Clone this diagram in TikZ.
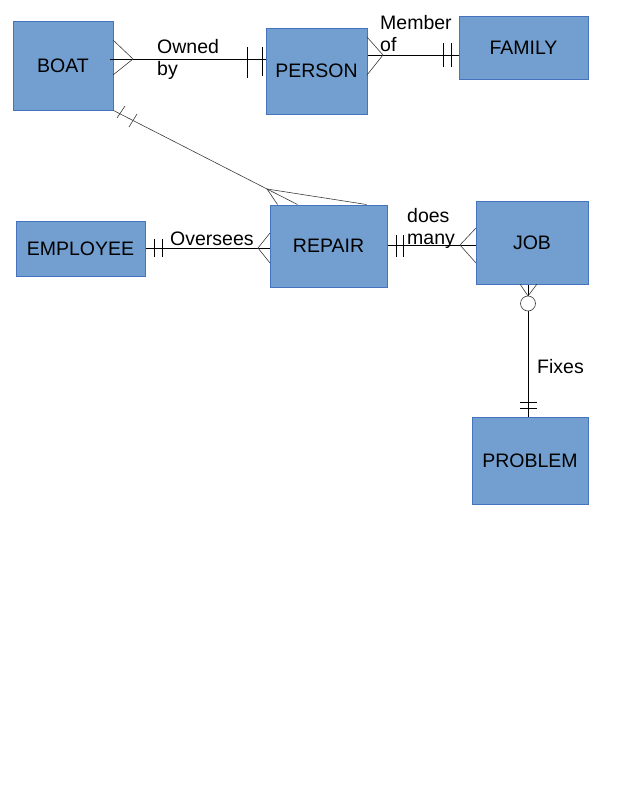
\documentclass[tikz,border=0pt]{standalone}
\usepackage{fontspec}
\setmainfont{Liberation Sans}
\usetikzlibrary{calc}
\definecolor{boxfill}{RGB}{114,159,207}
\definecolor{boxline}{RGB}{70,115,190}
\definecolor{thinline}{RGB}{60,60,60}
\begin{document}
\begin{tikzpicture}[x=1pt,y=-1pt,
  ebox/.style={draw=boxline, line width=1pt, fill=boxfill, inner sep=0pt,
    font=\fontsize{19.5}{22}\selectfont},
  lbl/.style={anchor=north west, inner sep=0pt, align=left,
    font=\fontsize{19.5}{22}\selectfont},
  mainline/.style={draw=black, line width=1pt},
  crow/.style={draw=thinline, line width=0.6pt},
  tick/.style={draw=black, line width=0.9pt}]
\useasboundingbox (0,0) rectangle (622,804);
% entities
\node[ebox, minimum width=100pt, minimum height=89pt] (boat) at (63,65.5) {BOAT};
\node[ebox, minimum width=101pt, minimum height=86pt] (person) at (316.5,71) {PERSON};
\node[ebox, minimum width=129pt, minimum height=63pt] (family) at (523.5,47.5) {FAMILY};
\node[ebox, minimum width=129pt, minimum height=55pt] (employee) at (80.5,248.5) {EMPLOYEE};
\node[ebox, minimum width=117pt, minimum height=82pt] (repair) at (328.5,246) {REPAIR};
\node[ebox, minimum width=112pt, minimum height=83pt] (job) at (532,242.5) {JOB};
\node[ebox, minimum width=116pt, minimum height=87pt] (problem) at (530,460.5) {PROBLEM};

% BOAT -- PERSON
\draw[mainline] ([xshift=-4pt,yshift=6.5pt]boat.east) -- ([yshift=12pt]person.west);
\draw[crow] (113,40) -- (133,59) -- (113,75);
\draw[tick] (247,47) -- (247,78);
\draw[tick] (262,47) -- (262,76);
\node[lbl] (ownedby) at (157,39) {Owned\\by};

% PERSON -- FAMILY
\draw[mainline] ([yshift=16pt]person.east) -- ([yshift=-7.5pt]family.west);
\draw[crow] (367,37) -- (383,55) -- (367,75);
\draw[tick] (443,43) -- (443,67);
\draw[tick] (451,43) -- (451,67);
\node[lbl] (memberof) at (380,15) {Member\\of};

% BOAT -- REPAIR
\coordinate (brA) at (267,189);
\draw[crow] (boat.south east) -- (brA);
\draw[crow] ([xshift=8pt]repair.north west) -- (brA) -- ([xshift=28pt]repair.north west);
\draw[crow] (brA) -- ([xshift=97pt]repair.north west);
\draw[crow] (117,118) -- (125,106);
\draw[crow] (129,127) -- (137,114);

% EMPLOYEE -- REPAIR
\draw[mainline] ([yshift=0.5pt]employee.east) -- ([yshift=-2pt]repair.west);
\draw[tick] (154,239) -- (154,257);
\draw[tick] (162,239) -- (162,257);
\draw[crow] (270,233) -- (258,248) -- (270,263);
\node[lbl] (oversees) at (170,232) {Oversees};

% REPAIR -- JOB
\draw[mainline] ([yshift=1pt]repair.east) -- ([yshift=-2.5pt]job.west);
\draw[tick] (396,235) -- (396,257);
\draw[tick] (403,235) -- (403,257);
\draw[crow] (476,228) -- (460,245) -- (476,263);
\node[lbl] (doesmany) at (407,208) {does\\many};

% JOB -- PROBLEM
\draw[mainline] ([xshift=-4pt]job.south) -- ([xshift=-2pt]problem.north);
\draw[crow] (520,284) -- (528,296) -- (537,284);
\node[circle, draw=thinline, line width=0.6pt, fill=white, minimum size=15pt, inner sep=0pt] (zero) at (528,303.5) {};
\draw[tick] (520,402) -- (537,402);
\draw[tick] (520,408) -- (537,408);
\node[lbl] (fixes) at (537,359) {Fixes};
\end{tikzpicture}
\end{document}
